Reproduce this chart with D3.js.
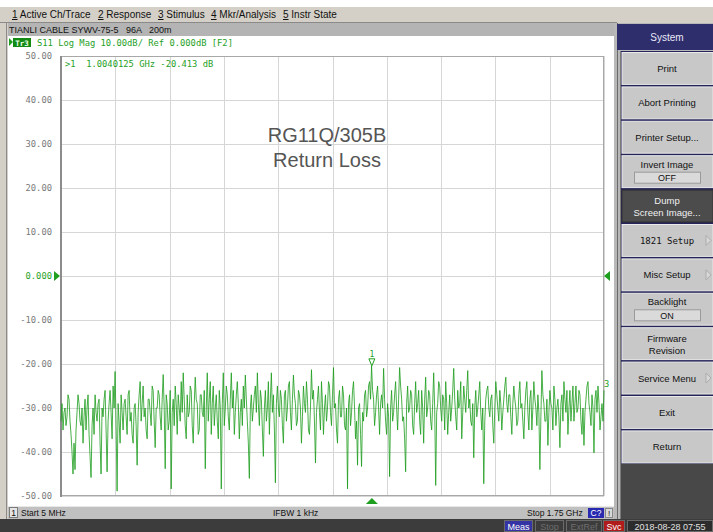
<!DOCTYPE html>
<html>
<head>
<meta charset="utf-8">
<script src="https://cdn.jsdelivr.net/npm/d3@7/dist/d3.min.js"></script>
<style>
  html, body { margin: 0; padding: 0; background: #fff; overflow: hidden; }
  svg { display: block; }
</style>
</head>
<body>
<div id="chart"></div>
<script>
// sweep + trace data
const startMHz = 5;
const stopMHz = 1750;
const yTicks = [50, 40, 30, 20, 10, 0, -10, -20, -30, -40, -50];
const yTickLabels = ["50.00", "40.00", "30.00", "20.00", "10.00", "0.000", "-10.00", "-20.00", "-30.00", "-40.00", "-50.00"];

// S11 log mag, dB, one value per sweep point
const s11dB = [
  -33,-29,-35,-31,-30,-34,-32,-27,-28,-33,-36,-40,-45,-38,-44,-35,-31,-27,-29,-33,-34,-30,-38,-32,-28,-35,-30,-27,-36,-41,-45.8,-34,
  -30,-36,-27,-31,-33,-29,-28,-38,-45,-30,-32,-28,-26,-35,-44.5,-33,-29,-26,-31,-37,-25,-30,-21.7,-34,-48.9,-29,-33,-38,-27,-31,-35,-29,
  -28,-32,-36,-27,-26,-33,-31,-36,-38,-30,-29,-34,-43,-31,-27,-24,-33,-29,-25,-32,-30,-35,-37,-28,-28,-31,-34,-25,-26,-33,-39,-30,
  -30,-26,-27,-32,-35,-28,-22.4,-30,-43.8,-27,-29,-35,-33,-26,-48.4,-31,-28,-34,-25,-29,-36,-27,-30,-33,-24,-31,-22,-28,-34,-37,-27,-32,
  -31,-25,-26,-34,-38,-29,-23,-28,-29,-36,-35,-27,-27,-31,-32,-26,-43.8,-30,-22,-33,-28,-24,-36,-29,-25,-34,-30,-27,-33,-37,-26,-30,
  -48.4,-29,-22,-34,-30,-25,-27,-32,-35,-28,-22,-30,-26,-36,-31,-27,-24,-29,-37,-31,-28,-34,-25,-30,-22.5,-28,-33,-38,-46,-30,-27,-33,
  -30,-27,-25,-31,-22,-29,-34,-26,-28,-35,-41,-30,-26,-33,-30,-24,-36,-28,-22,-31,-27,-35,-47,-29,-25,-30,-32,-26,-28,-34,-38,-27,
  -26,-33,-30,-25,-24,-31,-35,-28,-22.5,-27,-29,-34,-33,-26,-27,-30,-38,-32,-25,-29,-31,-24,-28,-35,-36,-30,-21.3,-28,-26,-33,-42.5,-31,
  -28,-25,-31,-35,-24,-29,-36,-30,-27,-33,-30,-24,-25,-31,-34,-27,-20.8,-30,-29,-35,-38,-28,-26,-32,-32,-25,-27,-34,-35,-30,-48.4,-29,
  -27,-34,-31,-26,-24,-30,-37,-33,-43,-30,-29,-36,-43.3,-31,-33,-27,-26,-32,-30,-25,-24,-28,-20.4,-26,-28,-34,-31,-27,-25,-30,-36,-29,
  -27,-30,-21,-28,-33,-36,-29,-32,-45.6,-30,-26,-33,-31,-27,-24,-30,-35,-28,-20.8,-25,-28,-33,-32,-37,-44.5,-29,-25,-31,-30,-26,-27,-34,
  -36,-29,-24,-31,-29,-26,-33,-36,-26,-30,-38,-28,-23,-32,-30,-26,-27,-33,-35,-29,-22,-30,-47.6,-31,-29,-24,-25,-30,-33,-27,-28,-35,
  -24,-29,-36,-31,-27,-33,-30,-26,-21,-28,-32,-35,-26,-30,-29,-24,-37,-31,-25,-28,-31,-26,-21.5,-30,-28,-33,-34,-29,-41.3,-30,-26,-32,
  -30,-27,-24,-31,-35,-30,-47.2,-33,-28,-26,-25,-30,-32,-28,-27,-34,-38,-30,-24,-27,-30,-33,-26,-29,-35,-31,-28,-25,-23,-29,-31,-27,
  -27,-32,-36,-29,-25,-28,-30,-34,-33,-27,-24,-30,-29,-33,-37,-30,-26,-24,-31,-35,-28,-26,-35,-30,-24,-28,-30,-34,-27,-31,-44,-32,
  -21.5,-27,-29,-33,-33,-28,-38.5,-31,-26,-29,-30,-35,-25,-28,-34,-30,-28,-32,-39,-29,-27,-33,-24,-28,-31,-26,-36,-30,-26,-33,-29,-25,
  -33,-29,-25,-31,-30,-26,-27,-33,-36,-30,-38.5,-31,-28,-25,-24,-29,-31,-34,-27,-30,-40.2,-28,-26,-31,-25,-29,-35,-32,-29,-33,-26
];

const markerFreqMHz = 1004.0125;
const markerDB = -20.413;

const menuItems = [["1", " Active Ch/Trace", 12], ["2", " Response", 98], ["3", " Stimulus", 158], ["4", " Mkr/Analysis", 211], ["5", " Instr State", 283]];

const softkeys = [
  { lines: ["Print"] },
  { lines: ["Abort Printing"] },
  { lines: ["Printer Setup..."] },
  { lines: ["Invert Image"], box: "OFF" },
  { lines: ["Dump", "Screen Image..."], dark: true },
  { lines: ["1821 Setup"], arrow: true, mono: true },
  { lines: ["Misc Setup"], arrow: true },
  { lines: ["Backlight"], box: "ON" },
  { lines: ["Firmware", "Revision"] },
  { lines: ["Service Menu"], arrow: true },
  { lines: ["Exit"] },
  { lines: ["Return"] }
];

const W = 713, H = 532;
const SANS = "'Liberation Sans', Arial, sans-serif";
const MONO = "'DejaVu Sans Mono', monospace";
const GREEN = "#1f9f1f";

const svg = d3.select("#chart").append("svg")
  .attr("width", W).attr("height", H);

// ---- window chrome ----
svg.append("rect").attr("width", W).attr("height", H).attr("fill", "#d4d0c8");
svg.append("rect").attr("x", 0).attr("y", 0).attr("width", W).attr("height", 7).attr("fill", "#fff");

// menu bar
const menu = svg.append("g");
menuItems.forEach(([num, label, mx]) => {
  const t = menu.append("text").attr("x", mx).attr("y", 18)
    .attr("font-family", SANS).attr("font-size", 10).attr("fill", "#111");
  t.append("tspan").style("text-decoration", "underline").text(num);
  t.append("tspan").text(label);
});
svg.append("line").attr("x1", 0).attr("x2", 617).attr("y1", 22.5).attr("y2", 22.5).attr("stroke", "#8a8a8a");

// left window border
svg.append("rect").attr("x", 0).attr("y", 23).attr("width", 8).attr("height", 496).attr("fill", "#d4d0c8");
svg.append("line").attr("x1", 6.5).attr("x2", 6.5).attr("y1", 23).attr("y2", 519).attr("stroke", "#8a8a8a");

// title bar
svg.append("rect").attr("x", 8).attr("y", 23).attr("width", 606).attr("height", 13).attr("fill", "#b4b4b4");
svg.append("text").attr("x", 9).attr("y", 33).attr("font-family", SANS).attr("font-size", 9)
  .attr("fill", "#111").attr("xml:space", "preserve")
  .text("TIANLI CABLE SYWV-75-5   96A   200m");

// white chart area
svg.append("rect").attr("x", 8).attr("y", 36).attr("width", 606).attr("height", 470).attr("fill", "#fff");

// ---- plot ----
const x = d3.scaleLinear().domain([startMHz, stopMHz]).range([61, 604]);
const y = d3.scaleLinear().domain([-50, 50]).range([496, 56]);

const grid = svg.append("g");
grid.selectAll(".h").data(yTicks).join("line")
  .attr("x1", 61).attr("x2", 604)
  .attr("y1", d => Math.round(y(d)) + 0.5).attr("y2", d => Math.round(y(d)) + 0.5)
  .attr("stroke", "#d6d6d6");
const xDivs = d3.range(0, 11).map(k => startMHz + k * (stopMHz - startMHz) / 10);
grid.selectAll(".v").data(xDivs).join("line")
  .attr("x1", d => Math.round(x(d)) + 0.5).attr("x2", d => Math.round(x(d)) + 0.5)
  .attr("y1", 56).attr("y2", 496)
  .attr("stroke", "#d6d6d6");
svg.append("rect").attr("x", 61.5).attr("y", 56.5).attr("width", 542).attr("height", 439)
  .attr("fill", "none").attr("stroke", "#a8a8a8");
svg.append("line").attr("x1", 61).attr("x2", 61).attr("y1", 56).attr("y2", 497)
  .attr("stroke", "#8c8c8c").attr("stroke-width", 2);

// y labels
svg.append("g").selectAll("text").data(yTicks).join("text")
  .attr("x", 52).attr("y", d => y(d) + 3)
  .attr("text-anchor", "end")
  .attr("font-family", MONO).attr("font-size", 8.8)
  .attr("fill", d => d === 0 ? GREEN : "#7a7a7a")
  .text((d, i) => yTickLabels[i]);

// reference arrows
const y0 = y(0);
svg.append("path").attr("d", `M54,${y0 - 5}L60,${y0}L54,${y0 + 5}Z`).attr("fill", GREEN);
svg.append("path").attr("d", `M610,${y0 - 5}L604,${y0}L610,${y0 + 5}Z`).attr("fill", GREEN);

// trace
const step = (stopMHz - startMHz) / (s11dB.length - 1);
const line = d3.line()
  .x((d, i) => x(startMHz + i * step))
  .y(d => y(d));
svg.append("path").datum(s11dB)
  .attr("d", line)
  .attr("fill", "none")
  .attr("stroke", "#1c9c1c")
  .attr("stroke-width", 1)
  .attr("stroke-opacity", 0.8)
  .attr("stroke-linejoin", "bevel");

// marker 1
const mx = x(markerFreqMHz), my = y(markerDB);
svg.append("path").attr("d", `M${mx - 3},${my - 7}L${mx + 3},${my - 7}L${mx},${my}Z`)
  .attr("fill", "#fff").attr("stroke", GREEN).attr("stroke-width", 1);
svg.append("text").attr("x", mx).attr("y", my - 9).attr("text-anchor", "middle")
  .attr("font-family", MONO).attr("font-size", 8).attr("fill", GREEN).text("1");
svg.append("path").attr("d", `M${mx - 6},504L${mx + 6},504L${mx},498Z`).attr("fill", GREEN);
svg.append("text").attr("x", 604).attr("y", 387)
  .attr("font-family", MONO).attr("font-size", 8.8).attr("fill", GREEN).text("3");

// marker readout
svg.append("text").attr("x", 65).attr("y", 67)
  .attr("font-family", MONO).attr("font-size", 8.8).attr("fill", GREEN)
  .attr("xml:space", "preserve")
  .text(`>1  ${(markerFreqMHz / 1000).toFixed(7)} GHz ${markerDB.toFixed(3)} dB`);

// trace header
svg.append("path").attr("d", "M9,38L13,42L9,46Z").attr("fill", GREEN);
svg.append("rect").attr("x", 13).attr("y", 38).attr("width", 18).attr("height", 9).attr("fill", "#138a13");
svg.append("text").attr("x", 22).attr("y", 45.5).attr("text-anchor", "middle")
  .attr("font-family", MONO).attr("font-size", 7.5).attr("font-weight", "bold").attr("fill", "#e8ffe8").text("Tr3");
svg.append("text").attr("x", 37).attr("y", 46)
  .attr("font-family", MONO).attr("font-size", 8.8).attr("fill", GREEN)
  .text("S11 Log Mag 10.00dB/ Ref 0.000dB [F2]");

// chart title
const title = svg.append("g").attr("font-family", SANS).attr("font-size", 20)
  .attr("fill", "#555").attr("text-anchor", "middle");
title.append("text").attr("x", 327).attr("y", 142).text("RG11Q/305B");
title.append("text").attr("x", 327).attr("y", 167).text("Return Loss");

// ---- status bar ----
svg.append("rect").attr("x", 8).attr("y", 506).attr("width", 606).attr("height", 13).attr("fill", "#c0c0c0");
svg.append("line").attr("x1", 8).attr("x2", 614).attr("y1", 506.5).attr("y2", 506.5).attr("stroke", "#e8e8e8");
svg.append("rect").attr("x", 9.5).attr("y", 507.5).attr("width", 8).attr("height", 10)
  .attr("fill", "#e4e4e4").attr("stroke", "#7a7a7a");
const status = svg.append("g").attr("font-family", SANS).attr("font-size", 8.5).attr("fill", "#111");
status.append("text").attr("x", 13.5).attr("y", 516).attr("text-anchor", "middle").text("1");
status.append("text").attr("x", 21).attr("y", 516).text(`Start ${startMHz} MHz`);
status.append("text").attr("x", 273).attr("y", 516).text("IFBW 1 kHz");
status.append("text").attr("x", 527).attr("y", 516).text(`Stop ${(stopMHz / 1000).toFixed(2)} GHz`);
svg.append("rect").attr("x", 588).attr("y", 508).attr("width", 16).attr("height", 10).attr("fill", "#2828b0");
svg.append("text").attr("x", 596).attr("y", 516).attr("text-anchor", "middle")
  .attr("font-family", SANS).attr("font-size", 8.5).attr("fill", "#fff").text("C?");
svg.append("rect").attr("x", 605.5).attr("y", 508.5).attr("width", 7).attr("height", 9)
  .attr("fill", "#d8d8d8").attr("stroke", "#888");
svg.append("text").attr("x", 609).attr("y", 516).attr("text-anchor", "middle")
  .attr("font-family", SANS).attr("font-size", 8).attr("fill", "#111").text("!");

// bottom dark bar
svg.append("rect").attr("x", 0).attr("y", 519).attr("width", W).attr("height", 13).attr("fill", "#3c3c3c");
const bottomBoxes = [
  { label: "Meas", x0: 504, w: 28, fill: "#3434a4", color: "#fff" },
  { label: "Stop", x0: 535, w: 28, fill: "#3c3c3c", color: "#6e6e6e" },
  { label: "ExtRef", x0: 566, w: 35, fill: "#3c3c3c", color: "#6e6e6e" },
  { label: "Svc", x0: 603, w: 21, fill: "#b01c1c", color: "#fff" },
  { label: "2018-08-28 07:55", x0: 627, w: 85, fill: "#2c2c2c", color: "#e0e0e0" }
];
const bb = svg.append("g").selectAll("g").data(bottomBoxes).join("g");
bb.append("rect").attr("x", d => d.x0 + 0.5).attr("y", 520.5).attr("width", d => d.w).attr("height", 11)
  .attr("fill", d => d.fill).attr("stroke", "#6a6a6a");
bb.append("text").attr("x", d => d.x0 + d.w / 2 + 0.5).attr("y", 529.5).attr("text-anchor", "middle")
  .attr("font-family", SANS).attr("font-size", 9).attr("fill", d => d.color).text(d => d.label);

// ---- right softkey panel ----
svg.append("rect").attr("x", 614).attr("y", 23).attr("width", 99).attr("height", 496).attr("fill", "#b8b8b8");
svg.append("line").attr("x1", 617.5).attr("x2", 617.5).attr("y1", 23).attr("y2", 519).attr("stroke", "#6a6a6a");
svg.append("line").attr("x1", 620.5).attr("x2", 620.5).attr("y1", 51).attr("y2", 519).attr("stroke", "#7a7a7a");
svg.append("rect").attr("x", 617).attr("y", 24).attr("width", 96).attr("height", 26).attr("fill", "#2e2e6c");
svg.append("text").attr("x", 667).attr("y", 41).attr("text-anchor", "middle")
  .attr("font-family", SANS).attr("font-size", 10).attr("fill", "#e8e8f8").text("System");

const keyTop = 51, keyStep = 34.4;
svg.append("rect").attr("x", 621).attr("y", keyTop).attr("width", 92).attr("height", keyStep * softkeys.length)
  .attr("fill", "#25255a");
svg.append("rect").attr("x", 621).attr("y", keyTop + keyStep * softkeys.length)
  .attr("width", 92).attr("height", 519 - keyTop - keyStep * softkeys.length).attr("fill", "#484848");

const keys = svg.append("g").selectAll("g").data(softkeys).join("g")
  .attr("transform", (d, i) => `translate(622,${keyTop + i * keyStep + 1.5})`);
keys.append("rect").attr("width", 91).attr("height", keyStep - 2.5)
  .attr("fill", d => d.dark ? "#4c4c4c" : "#c8c8c8").attr("stroke", d => d.dark ? "#333" : "#eaeaea");
keys.each(function (d) {
  const g = d3.select(this);
  const h = keyStep - 2.5;
  const fam = d.mono ? MONO : SANS;
  const col = d.dark ? "#f0f0f0" : "#111";
  let ys;
  if (d.box) ys = [12];
  else if (d.lines.length === 2) ys = [h / 2 - 2, h / 2 + 10];
  else ys = [h / 2 + 3.5];
  d.lines.forEach((t, k) => {
    g.append("text").attr("x", 45).attr("y", ys[k]).attr("text-anchor", "middle")
      .attr("font-family", fam).attr("font-size", d.mono ? 9 : 9.5).attr("fill", col).text(t);
  });
  if (d.box) {
    g.append("rect").attr("x", 12.5).attr("y", 16.5).attr("width", 66).attr("height", 11)
      .attr("fill", "#dadada").attr("stroke", "#9a9a9a");
    g.append("text").attr("x", 45).attr("y", 25.5).attr("text-anchor", "middle")
      .attr("font-family", SANS).attr("font-size", 9).attr("fill", "#111").text(d.box);
  }
  if (d.arrow) {
    g.append("path").attr("d", `M84,${h / 2 - 5}L89,${h / 2}L84,${h / 2 + 5}Z`)
      .attr("fill", "#d8d8d8").attr("stroke", "#ababab");
  }
});
</script>
</body>
</html>
